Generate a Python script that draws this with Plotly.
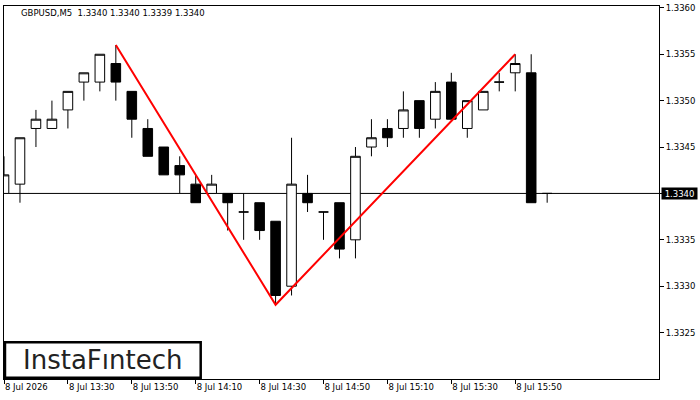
import plotly.graph_objects as go

# ---- data ----
times = [
    "2026-07-08 13:10", "2026-07-08 13:15", "2026-07-08 13:20", "2026-07-08 13:25",
    "2026-07-08 13:30", "2026-07-08 13:35", "2026-07-08 13:40", "2026-07-08 13:45",
    "2026-07-08 13:50", "2026-07-08 13:55", "2026-07-08 14:00", "2026-07-08 14:05",
    "2026-07-08 14:10", "2026-07-08 14:15", "2026-07-08 14:20", "2026-07-08 14:25",
    "2026-07-08 14:30", "2026-07-08 14:35", "2026-07-08 14:40", "2026-07-08 14:45",
    "2026-07-08 14:50", "2026-07-08 14:55", "2026-07-08 15:00", "2026-07-08 15:05",
    "2026-07-08 15:10", "2026-07-08 15:15", "2026-07-08 15:20", "2026-07-08 15:25",
    "2026-07-08 15:30", "2026-07-08 15:35", "2026-07-08 15:40", "2026-07-08 15:45",
    "2026-07-08 15:50", "2026-07-08 15:55", "2026-07-08 16:00",
]
opens = [1.3340, 1.3341, 1.3347, 1.3347, 1.3349, 1.3352, 1.3352, 1.3354,
         1.3351, 1.3347, 1.3345, 1.3343, 1.3341, 1.3340, 1.3340, 1.3338,
         1.3339, 1.3337, 1.3330, 1.3340, 1.3338, 1.3339, 1.3335, 1.3345,
         1.3347, 1.3347, 1.3350, 1.3348, 1.3352, 1.3347, 1.3349, 1.3352,
         1.3353, 1.3353, 1.3340]
highs = [1.3344, 1.3346, 1.3349, 1.3350, 1.3351, 1.3353, 1.3355, 1.3356,
         1.3351, 1.3348, 1.3345, 1.3344, 1.3342, 1.3342, 1.3340, 1.3340,
         1.3339, 1.3337, 1.3346, 1.3342, 1.3338, 1.3339, 1.3345, 1.3348,
         1.3348, 1.3351, 1.3350, 1.3352, 1.3353, 1.3350, 1.3351, 1.3353,
         1.3355, 1.3355, 1.3340]
lows = [1.3340, 1.3339, 1.3345, 1.3347, 1.3347, 1.3350, 1.3351, 1.3350,
        1.3346, 1.3344, 1.3342, 1.3340, 1.3339, 1.3340, 1.3336, 1.3335,
        1.3335, 1.3328, 1.3329, 1.3338, 1.3335, 1.3333, 1.3333, 1.3344,
        1.3345, 1.3346, 1.3346, 1.3347, 1.3348, 1.3346, 1.3349, 1.3351,
        1.3351, 1.3339, 1.3339]
closes = [1.3342, 1.3346, 1.3348, 1.3348, 1.3351, 1.3353, 1.3355, 1.3352,
          1.3348, 1.3344, 1.3342, 1.3342, 1.3339, 1.3341, 1.3339, 1.3338,
          1.3336, 1.3329, 1.3341, 1.3339, 1.3338, 1.3334, 1.3344, 1.3346,
          1.3346, 1.3349, 1.3347, 1.3351, 1.3348, 1.3350, 1.3351, 1.3352,
          1.3354, 1.3339, 1.3340]

pattern_x = ["2026-07-08 13:45", "2026-07-08 14:35", "2026-07-08 15:50"]
pattern_y = [1.3356, 1.3328, 1.3355]

last_price = 1.3340
title_text = "GBPUSD,M5\u00a0 1.3340 1.3340 1.3339 1.3340"

x_tick_vals = ["2026-07-08 13:10", "2026-07-08 13:30", "2026-07-08 13:50",
               "2026-07-08 14:10", "2026-07-08 14:30", "2026-07-08 14:50",
               "2026-07-08 15:10", "2026-07-08 15:30", "2026-07-08 15:50"]
x_tick_text = ["8 Jul 2026", "8 Jul 13:30", "8 Jul 13:50", "8 Jul 14:10",
               "8 Jul 14:30", "8 Jul 14:50", "8 Jul 15:10", "8 Jul 15:30",
               "8 Jul 15:50"]
y_tick_vals = [1.3325, 1.3330, 1.3335, 1.3340, 1.3345, 1.3350, 1.3355, 1.3360]

FONT = "DejaVu Sans"

fig = go.Figure()
fig.add_trace(go.Candlestick(
    x=times, open=opens, high=highs, low=lows, close=closes,
    increasing=dict(line=dict(color="black", width=1), fillcolor="white"),
    decreasing=dict(line=dict(color="black", width=1), fillcolor="black"),
    whiskerwidth=0, showlegend=False, hoverinfo="skip",
))
fig.add_trace(go.Scatter(
    x=pattern_x, y=pattern_y, mode="lines",
    line=dict(color="#ff0000", width=2), showlegend=False, hoverinfo="skip",
))

fig.add_shape(type="line", xref="paper", x0=0, x1=1, yref="y",
              y0=last_price, y1=last_price, line=dict(color="black", width=1),
              layer="below")

# logo box
fig.add_shape(type="rect", xref="paper", yref="paper",
              x0=0.0015, x1=0.3003, y0=0.0035, y1=0.0984,
              line=dict(color="black", width=2.5), fillcolor="white", layer="above")
fig.add_annotation(xref="paper", yref="paper", x=0.1508, y=0.052,
                   text="InstaF\u0131ntech", showarrow=False,
                   xanchor="center", yanchor="middle",
                   font=dict(family=FONT, size=26, color="#222222"))

# title
fig.add_annotation(xref="paper", yref="paper", x=0.0229, y=0.9806,
                   text=title_text, showarrow=False, xanchor="left", yanchor="middle",
                   font=dict(family=FONT, size=8.5, color="black"))

# current price label
fig.add_annotation(xref="paper", yref="y", x=1, y=last_price, xanchor="left",
                   yanchor="middle", xshift=1.5, text=f"{last_price:.4f}",
                   showarrow=False, bgcolor="black", width=35, height=11,
                   borderpad=0, font=dict(family=FONT, size=8.5, color="white"))

fig.update_layout(
    width=700, height=400,
    margin=dict(l=3, r=41, t=3, b=21),
    paper_bgcolor="white", plot_bgcolor="white",
    font=dict(family=FONT, size=8.5, color="black"),
    boxgap=0.4, boxgroupgap=0,
    showlegend=False,
    xaxis=dict(
        type="date",
        range=["2026-07-08 13:10:00", "2026-07-08 16:35:00"],
        rangeslider=dict(visible=False),
        showgrid=False, zeroline=False,
        showline=True, linecolor="black", linewidth=1, mirror=True,
        ticks="outside", ticklen=4, tickcolor="black", tickwidth=1,
        tickmode="array", tickvals=x_tick_vals, ticktext=x_tick_text,
        ticklabelposition="outside right", ticklabeloverflow="allow",
        tickfont=dict(family=FONT, size=8.5, color="black"),
    ),
    yaxis=dict(
        side="right",
        range=[1.33200, 1.33602],
        showgrid=False, zeroline=False,
        showline=True, linecolor="black", linewidth=1, mirror=True,
        ticks="outside", ticklen=4, tickcolor="black", tickwidth=1,
        tickmode="array", tickvals=y_tick_vals, tickformat=".4f",
        ticklabeloverflow="allow",
        tickfont=dict(family=FONT, size=8.5, color="black"),
    ),
)

fig.write_html("out.html")
